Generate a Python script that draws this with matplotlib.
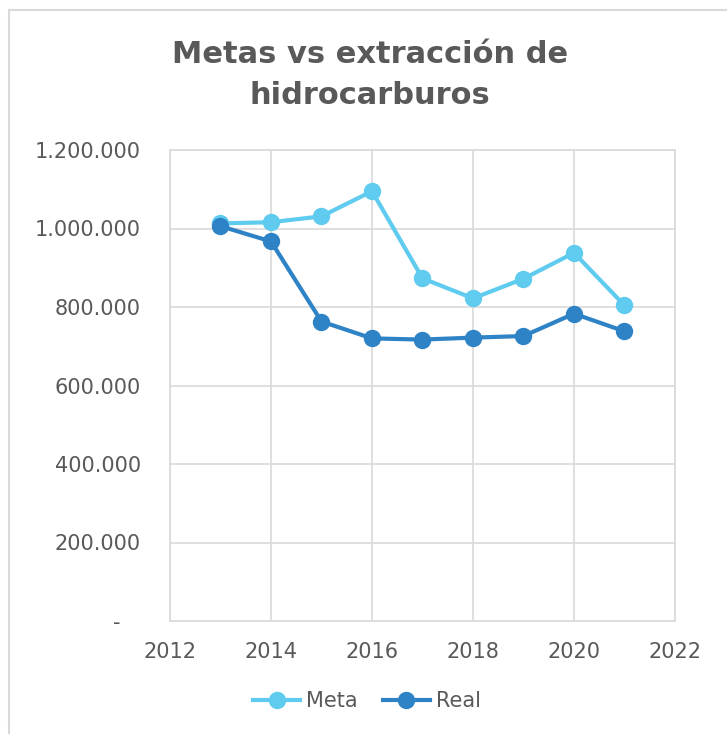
import matplotlib.pyplot as plt
from matplotlib.patches import Rectangle
from matplotlib.ticker import FuncFormatter, MultipleLocator

years = [2013, 2014, 2015, 2016, 2017, 2018, 2019, 2020, 2021]
meta = [1013000, 1016000, 1031000, 1095000, 873000, 822000, 872000, 938000, 804000]
real = [1006000, 967000, 763000, 720000, 717000, 722000, 726000, 783000, 738000]

text_col = "#595959"
grid_col = "#d9d9d9"

fig = plt.figure(figsize=(7.27, 7.34), dpi=100)
fig.patches.append(Rectangle((9 / 727, -0.1), 2, 1 - 10 / 734 + 0.1,
                             transform=fig.transFigure, fill=False,
                             edgecolor="#d9d9d9", linewidth=1.5))

ax = fig.add_axes([170 / 727, 1 - 621 / 734, 505 / 727, 471 / 734])

ax.plot(years, meta, color="#5ecbef", lw=3, marker="o", ms=11.5, label="Meta", zorder=3)
ax.plot(years, real, color="#2e83c6", lw=3, marker="o", ms=11.5, label="Real", zorder=3)

ax.set_xlim(2012, 2022)
ax.set_ylim(0, 1200000)
ax.xaxis.set_major_locator(MultipleLocator(2))
ax.yaxis.set_major_locator(MultipleLocator(200000))


def fmt(v, pos):
    if v == 0:
        return "-   "
    return f"{int(v):,}".replace(",", ".")


ax.yaxis.set_major_formatter(FuncFormatter(fmt))
ax.grid(True, color=grid_col, lw=1.2)
ax.set_axisbelow(True)
for s in ax.spines.values():
    s.set_color(grid_col)
    s.set_linewidth(1.2)
ax.tick_params(length=0, labelsize=15, colors=text_col)
ax.tick_params(axis="x", pad=15)
ax.tick_params(axis="y", pad=21)

fig.text(370 / 727, 1 - 75 / 734, "Metas vs extracción de\nhidrocarburos",
         ha="center", va="center", fontsize=22, fontweight="bold",
         color=text_col, linespacing=1.55)

leg = fig.legend(loc="center", bbox_to_anchor=(367 / 727, 1 - 701 / 734), ncol=2,
                 frameon=False, fontsize=15, handlelength=2.25, handletextpad=0.3,
                 columnspacing=1.2)
for t in leg.get_texts():
    t.set_color(text_col)

fig.savefig("out.png", dpi=100)
